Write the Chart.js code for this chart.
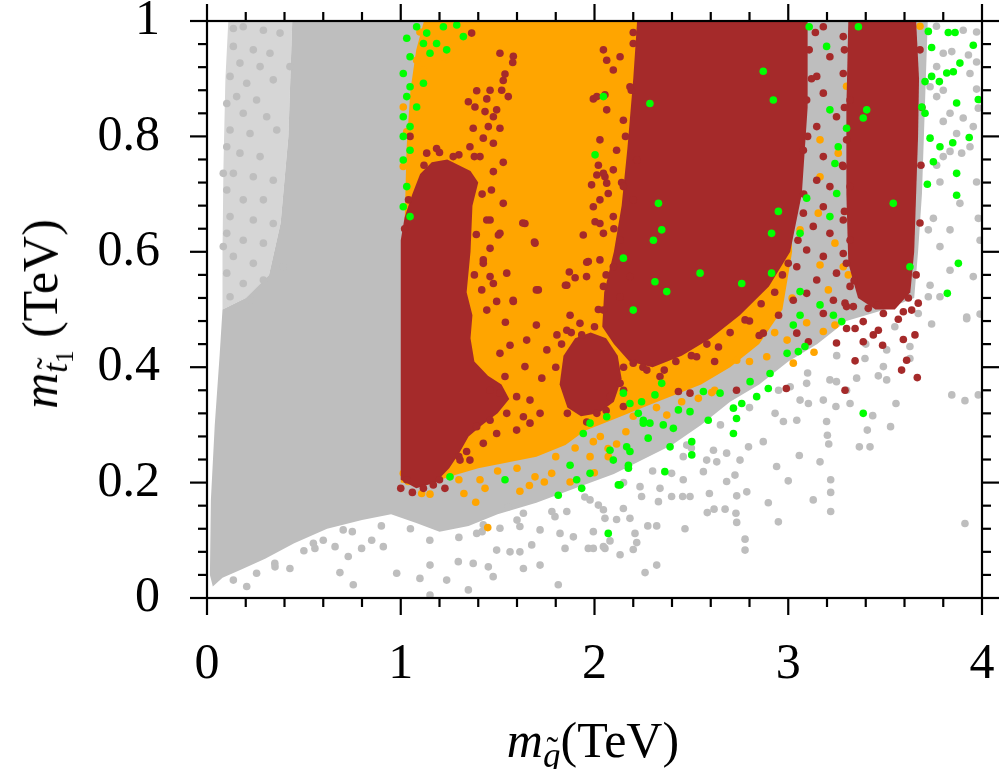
<!DOCTYPE html>
<html>
<head>
<meta charset="utf-8">
<title>m_gluino vs m_stop1</title>
<script src="https://cdn.jsdelivr.net/npm/chart.js@4.4.1/dist/chart.umd.min.js"></script>
<style>
html, body { margin: 0; padding: 0; background: #fff; }
#wrap { position: relative; width: 999px; height: 769px; overflow: hidden; }
#chart { position: absolute; left: 0; top: 0; }
.ttl { position: absolute; font-family: 'Liberation Serif', serif; font-size: 50px; color: #000; white-space: nowrap; line-height: 1; }
.ttl .s { font-size: 0.7em; position: relative; top: 0.28em; }
.ttl .ss { font-size: 0.72em; position: relative; top: 0.25em; }
.ttl .base { position: relative; }
.ttl .acc { position: absolute; left: 0.1em; top: -0.08em; font-style: normal; }
#xt { left: 593px; top: 740px; transform: translate(-50%, -50%); }
#yt { left: 40px; top: 314px; transform: translate(-50%, -50%) rotate(-90deg); }
</style>
</head>
<body>
<div id="wrap">
  <canvas id="chart" width="999" height="769"></canvas>
  <div class="ttl" id="xt"><i>m</i><span class="s"><span class="base"><i>g</i><span class="acc">&#732;</span></span></span>(TeV)</div>
  <div class="ttl" id="yt"><i>m</i><span class="s"><span class="base"><i>t</i><span class="acc">&#732;</span></span><span class="ss">1</span></span> (TeV)</div>
</div>
<script>
// axes
const xTickLabels = ['0', '1', '2', '3', '4'];
const yTickLabels = ['0', '0.2', '0.4', '0.6', '0.8', '1'];
const xMajor = [0, 1, 2, 3, 4];
const xMinor = [0.2, 0.4, 0.6, 0.8, 1.2, 1.4, 1.6, 1.8, 2.2, 2.4, 2.6, 2.8, 3.2, 3.4, 3.6, 3.8];
const yMajor = [0, 0.2, 0.4, 0.6, 0.8, 1];
const yMinor = [0.04, 0.08, 0.12, 0.16, 0.24, 0.28, 0.32, 0.36, 0.44, 0.48, 0.52, 0.56,
                0.64, 0.68, 0.72, 0.76, 0.84, 0.88, 0.92, 0.96];

// dense regions (outline of where the points pile up), [m_gluino, m_stop1] in TeV
const grayCore = [[0.44,1.0],[3.72,1.0],[3.71,0.9],[3.7,0.8],[3.69,0.7],[3.67,0.6],[3.65,0.52],[3.5,0.5],
  [3.3,0.48],[3.15,0.44],[3.0,0.41],[2.85,0.37],[2.7,0.34],[2.55,0.3],[2.4,0.265],[2.25,0.24],[2.1,0.215],
  [1.9,0.19],[1.7,0.165],[1.5,0.145],[1.35,0.125],[1.2,0.115],[1.08,0.13],[0.95,0.145],[0.8,0.135],
  [0.62,0.12],[0.45,0.095],[0.3,0.068],[0.18,0.05],[0.08,0.035],[0.03,0.02],[0.015,0.04],[0.02,0.17],
  [0.04,0.3],[0.065,0.42],[0.08,0.5],[0.2,0.52],[0.32,0.56],[0.38,0.65],[0.42,0.8],[0.44,1.0]];
const graySparse = [[0.44,1.0],[0.11,1.0],[0.095,0.9],[0.085,0.75],[0.08,0.6],[0.08,0.5],[0.2,0.52],
  [0.32,0.56],[0.38,0.65],[0.42,0.8],[0.44,1.0]];
const orangeCore = [[1.12,1.0],[2.98,1.0],[3.0,0.8],[3.02,0.6],[2.97,0.5],[2.85,0.44],[2.7,0.4],
  [2.55,0.37],[2.4,0.35],[2.25,0.33],[2.1,0.31],[1.95,0.29],[1.85,0.265],[1.7,0.245],[1.55,0.235],
  [1.4,0.225],[1.25,0.21],[1.12,0.195],[1.0,0.2],[1.02,0.65],[1.03,0.78],[1.05,0.88],[1.08,0.95],[1.12,1.0]];
const brownBand = [[1.0,0.205],[1.0,0.62],[1.02,0.66],[1.06,0.7],[1.1,0.735],[1.16,0.755],[1.24,0.76],
  [1.3,0.75],[1.36,0.74],[1.4,0.72],[1.37,0.68],[1.36,0.6],[1.34,0.53],[1.37,0.49],[1.36,0.45],
  [1.38,0.41],[1.45,0.385],[1.52,0.37],[1.56,0.345],[1.5,0.32],[1.42,0.3],[1.35,0.28],[1.3,0.25],
  [1.25,0.225],[1.18,0.2],[1.08,0.19],[1.0,0.205]];
const brownBlob = [[1.82,0.37],[1.84,0.42],[1.9,0.45],[1.98,0.46],[2.06,0.45],[2.12,0.42],[2.14,0.38],
  [2.1,0.34],[2.02,0.32],[1.93,0.315],[1.86,0.33],[1.82,0.37]];
const brownMain = [[2.22,1.0],[3.1,1.0],[3.1,0.85],[3.07,0.7],[3.01,0.6],[2.9,0.54],[2.75,0.49],
  [2.6,0.45],[2.45,0.42],[2.3,0.4],[2.18,0.41],[2.1,0.44],[2.04,0.47],[2.05,0.53],[2.1,0.6],
  [2.14,0.68],[2.17,0.78],[2.2,0.9],[2.22,1.0]];
const brownStrip = [[3.31,1.0],[3.66,1.0],[3.675,0.9],[3.67,0.8],[3.66,0.7],[3.65,0.6],[3.63,0.53],
  [3.55,0.5],[3.45,0.5],[3.36,0.52],[3.31,0.58],[3.3,0.7],[3.3,0.85],[3.31,1.0]];

// single points
const grayPoints = [
  [.136,.987],[.187,.99],[.291,.984],[.377,.979],[.136,.956],[.239,.95],[.325,.944],[.17,.927],[.274,.921],
  [.119,.904],[.205,.892],[.342,.898],[.153,.869],[.256,.863],[.102,.857],[.187,.84],[.308,.834],[.119,.811],
  [.222,.805],[.36,.811],[.102,.782],[.17,.771],[.274,.765],[.136,.736],[.239,.73],[.342,.724],[.102,.707],
  [.187,.69],[.291,.69],[.119,.661],[.239,.655],[.342,.649],[.102,.632],[.187,.62],[.291,.615],[.136,.592],
  [.239,.58],[.102,.563],[.187,.545],[.291,.551],[.119,.522],[.222,.516],[.084,.609],[.084,.736],[.428,.921],
  [.394,.574],
  [.136,.031],[.205,.02],[.256,.043],[.351,.054],[.428,.051],[.549,.095],[.557,.086],[.661,.089],[.703,.118],
  [.729,.072],[.686,.044],[.755,.023],[.798,.086],[.85,.1],[.91,.089],[.979,.043],[1.151,.005],[1.099,.034],
  [1.151,.057],[1.237,.031],[1.349,.014],[1.297,.063],[1.374,.06],[1.477,.037],[1.452,.054],[1.495,.083],
  [1.564,.08],[1.615,.08],[1.633,.051],[1.719,.057],[1.813,.023],[1.848,.086],[1.891,.106],[1.968,.086],
  [2.046,.089],[1.676,.092],[1.719,.118],[1.615,.124],[1.512,.121],[1.426,.127],[1.392,.112],[1.822,.112],
  [1.857,.15],[1.796,.141],[1.633,.147],[1.555,.158],[2.02,.161],[1.977,.17],
  [.35,.06],[.5,.082],[.6,.1],[.75,.115],[.9,.125],[1.05,.12],[1.15,.1],[1.3,.105],[1.42,.115],[1.6,.135],
  [1.78,.15],[1.95,.175],[2.15,.2],[2.3,.22],[2.5,.26],[2.65,.3],[2.8,.33],[2.95,.36],[3.1,.39],[3.25,.42],
  [3.4,.44],[3.55,.47],
  [3.74,.475],[3.921,.484],[3.99,.492],[3.844,.352],[3.912,.342],[3.981,.352],[3.556,.337],[3.528,.297],
  [3.408,.291],[3.436,.316],[3.367,.262],[3.246,.332],[3.202,.282],[3.209,.267],[3.164,.236],[3.057,.247],
  [3.219,.205],[3.219,.183],[3.219,.15],[3.129,.17],[3.0,.203],[2.94,.228],[2.897,.165],[2.949,.132],
  [2.777,.102],[2.777,.083],[2.734,.131],[2.73,.147],[2.786,.184],[2.674,.154],[2.617,.154],[2.582,.148],
  [2.593,.181],[2.682,.202],[2.734,.177],[2.725,.213],[2.751,.239],[2.631,.236],[2.562,.219],[2.493,.176],
  [2.455,.176],[2.467,.12],[2.321,.057],[2.261,.044],[2.275,.125],[2.321,.125],[2.209,.112],[2.218,.096],
  [2.2,.084],[2.132,.075],[2.114,.136],[2.183,.138],[2.08,.099],[2.054,.086],[2.054,.138],[2.046,.153],
  [1.994,.115],[1.994,.086],[2.149,.155],[2.33,.167],[2.338,.19],[2.243,.176],[2.235,.193],[2.398,.176],
  [2.458,.205],[2.398,.216],[2.458,.245],[2.579,.239],[2.682,.251],[2.614,.256],[2.476,.265],[2.795,.262],
  [2.871,.271],[2.932,.32],[2.975,.306],[3.044,.308],[3.104,.337],[3.181,.343],[3.215,.378],[3.249,.375],
  [3.319,.337],[3.301,.36],[3.353,.381],[3.465,.385],[3.508,.378],[3.491,.401],[3.396,.415],[3.628,.415],
  [3.628,.436],[3.508,.43],[3.422,.262],[3.198,.306],[3.061,.343],[3.01,.366],[3.095,.372],[3.912,.129],
  [3.765,.991],[3.903,.984],[3.972,.981],[3.8,.944],[3.844,.947],[3.93,.941],[3.972,.929],[3.766,.921],
  [3.938,.909],[3.972,.882],[3.8,.88],[3.732,.886],[3.766,.869],[3.835,.84],[3.903,.832],[3.955,.817],
  [3.981,.849],[3.8,.826],[3.869,.805],[3.938,.782],[3.835,.774],[3.895,.771],[3.8,.765],[3.766,.75],
  [3.972,.721],[3.783,.721],[3.886,.684],[3.981,.658],[3.749,.658],[3.835,.638],[3.723,.638],[3.783,.609],
  [3.955,.557],[3.99,.62],[3.835,.568],[3.732,.542],[3.783,.522],[3.921,.487],[3.723,.522],[3.671,.493]];

const greenPoints = [
  [1.082,.99],[1.134,.979],[1.22,.99],[1.031,.97],[1.117,.961],[1.185,.961],[1.048,.938],[1.151,.944],
  [1.237,.95],[1.013,.909],[1.048,.886],[1.117,.892],[1.031,.869],[1.082,.851],[1.013,.834],[1.048,.817],
  [1.013,.8],[1.048,.776],[1.013,.759],[1.031,.713],[1.013,.678],[1.048,.661],[1.323,.973],[1.289,.993],
  [1.942,.285],[1.977,.303],[2.063,.314],[2.149,.355],[2.183,.337],[2.226,.32],[2.252,.303],[1.874,.23],
  [1.908,.205],[1.934,.19],[1.977,.216],[2.08,.256],[2.166,.262],[2.175,.23],[2.132,.196],[1.813,.178],
  [1.538,.205],[1.254,.21],
  [3.233,.49],[3.276,.479],[3.061,.49],[3.026,.473],[2.994,.424],[3.086,.436],[3.052,.427],[2.906,.389],
  [2.897,.363],[2.803,.375],[2.837,.349],[2.76,.337],[2.717,.329],[2.733,.311],[2.717,.285],[2.648,.355],
  [2.562,.358],[2.587,.308],[2.493,.323],[2.502,.271],[2.502,.248],[2.39,.262],[2.407,.294],[2.363,.219],
  [2.355,.3],[2.433,.326],[2.286,.303],[2.277,.277],[2.183,.254],[2.175,.225],[2.097,.239],[2.123,.196],
  [2.071,.112],[3.387,.32],[2.243,.34],[2.312,.352],[2.347,.372],[2.252,.308],
  [3.723,.982],[3.826,.98],[3.861,.98],[3.955,.958],[3.74,.954],[3.886,.927],[3.818,.91],[3.852,.912],
  [3.74,.904],[3.706,.895],[3.78,.895],[3.981,.864],[3.869,.858],[3.689,.851],[3.706,.84],[3.732,.797],
  [3.934,.798],[3.783,.782],[3.849,.789],[3.749,.756],[3.869,.736],[3.718,.717],[3.869,.698],[3.878,.58],
  [3.821,.528],
  [2.923,.863],[3.215,.846],[3.405,.846],[3.301,.814],[3.258,.782],[3.241,.753],[3.25,.701],[3.095,.693],
  [2.949,.67],[2.914,.632],[3.061,.632],[3.215,.661],[3.387,.832],[3.628,.574],[3.542,.684],[2.871,.913],
  [3.108,.99],[3.198,.956],[3.362,.99],
  [2.304,.62],[2.347,.638],[2.33,.684],[2.286,.857],[2.046,.869],[2.003,.768],[2.149,.589],[2.312,.548],
  [2.373,.531],[2.2,.499],[2.545,.563],[2.76,.545],[2.914,.563],[3.061,.531],[3.164,.508]];

const orangePoints = [
  [1.013,.216],[1.039,.202],[1.108,.181],[1.151,.18],[1.326,.181],[1.387,.166],[1.435,.19],[1.449,.122],
  [1.615,.185],[1.664,.195],[1.741,.201],[1.874,.201],[1.999,.217],[2.071,.245],[2.07,.259],[1.977,.245],
  [1.779,.216],[1.693,.21],[1.409,.205],[1.254,.211],
  [1.3,.205],[1.5,.22],[1.6,.225],[1.8,.245],[1.9,.26],[2.03,.28],[2.2,.315],[2.32,.33],[2.45,.34],
  [2.62,.36],[2.8,.41],[2.93,.46],[3.02,.52],
  [1.994,.271],[2.114,.267],[2.162,.288],[2.373,.317],[2.536,.346],[2.605,.356],[2.734,.412],[2.889,.418],
  [3.026,.407],[3.133,.426],[3.181,.462],[3.241,.473],[3.095,.477],[2.994,.447],
  [3.68,.991],[3.301,.887],[3.164,.794],[3.258,.771],[3.164,.73],[3.31,.67],[3.241,.615],[3.164,.577],
  [3.284,.574],[3.31,.56],[3.207,.534],[3.061,.638],[3.155,.667],
  [1.099,.981],[1.168,.967],[1.22,.938],[1.013,.851],[1.013,.748],[1.082,.932],[1.117,.915],[1.031,.808]];

const brownPoints = [
  [3.181,.99],[3.284,.973],[3.215,.938],[3.147,.904],[3.284,.909],[3.181,.875],[3.319,.863],[3.249,.834],
  [3.147,.817],[3.301,.794],[3.181,.765],[3.284,.748],[3.147,.724],[3.215,.713],[3.319,.713],[3.181,.678],
  [3.284,.655],[3.129,.644],[3.215,.632],[3.319,.62],[3.095,.603],[3.181,.592],[3.284,.597],[3.249,.563],
  [3.147,.551],[3.319,.54],[3.095,.528],[3.233,.516],[3.301,.505],[3.181,.493],[3.044,.574],[3.026,.516],
  [3.078,.667],[3.078,.776],[3.095,.863],[3.108,.95],
  [3.14,.98],[3.12,.9],[3.1,.8],[3.08,.7],[3.05,.62],[3.0,.58],[2.97,.56],[2.93,.53],[2.86,.51],[2.8,.48],
  [2.7,.46],[2.64,.435],[2.58,.44],[2.5,.42],[2.42,.41],[2.36,.395],[2.25,.4],[2.62,.41],[2.85,.455],
  [2.95,.49],
  [3.29,.95],[3.29,.85],[3.28,.75],[3.29,.67],[3.3,.58],[3.34,.55],[3.68,.95],[3.69,.85],[3.685,.75],
  [3.68,.65],[3.66,.56],[3.62,.52],
  [1.0,.19],[1.06,.183],[1.2,.205],[1.3,.245],[1.39,.63],[1.38,.56],[1.42,.7],[1.38,.765],[1.3,.768],
  [1.2,.772],[1.12,.75],[1.04,.69],[1.02,.64],
  [1.8,.4],[1.83,.44],[1.88,.46],[2.0,.47],[2.15,.4],[2.15,.36],[2.06,.325],[1.96,.305],[1.86,.32],
  [2.02,.5],[2.06,.56],[2.1,.64],[2.14,.72],[2.16,.8],[2.19,.88],[2.2,.98],
  [3.293,.511],[3.336,.505],[3.413,.502],[3.465,.508],[3.491,.493],[3.594,.496],[3.637,.499],[3.671,.511],
  [3.568,.483],[3.301,.467],[3.345,.467],[3.387,.479],[3.439,.456],[3.387,.444],[3.465,.464],[3.487,.438],
  [3.594,.448],[3.654,.456],[3.611,.412],[3.585,.395],[3.666,.382],[3.293,.36],[3.345,.411],[3.249,.442],
  [3.104,.444],[2.99,.363],[2.733,.36],
  [1.366,.979],[1.512,.944],[1.581,.939],[1.578,.928],[1.538,.908],[1.529,.897],[1.392,.879],[1.461,.88],
  [1.521,.88],[1.555,.869],[1.349,.86],[1.444,.865],[1.383,.851],[1.435,.843],[1.495,.846],[1.478,.834],
  [1.374,.814],[1.452,.817],[1.512,.814],[1.426,.797],[1.357,.782],[1.478,.788],[1.271,.765],[1.185,.779],
  [1.134,.771],[1.048,.8],[1.409,.765],[1.529,.755],[1.478,.739],[1.529,.684],[1.468,.707],[1.461,.655],
  [1.504,.629],[1.461,.606],[1.426,.58],[1.461,.557],[1.478,.545],[1.418,.534],[1.581,.514],[1.495,.514],
  [1.641,.649],[1.693,.615],[1.71,.534],[1.874,.49],[1.857,.542],[1.968,.583],[1.959,.557],[1.942,.629],
  [2.003,.652],[1.985,.716],[2.054,.73],[2.02,.75],[1.994,.865],[2.054,.872],[2.046,.95],[2.063,.932],
  [1.444,.655],[1.512,.632],[1.426,.586],[1.547,.563],[1.444,.499],[1.564,.438],[1.512,.424],[1.641,.401],
  [1.728,.381],[1.538,.384],[1.754,.43],[1.806,.456],[1.857,.464],[1.925,.476],[1.934,.456],[2.028,.649],
  [1.994,.678],[2.063,.719],[2.071,.701],[2.012,.733],[2.097,.742],
  [1.63,.65],[1.69,.617],[1.70,.534],[1.58,.516],[1.54,.478],[1.70,.473],[1.65,.447],[1.85,.542],
  [1.87,.565],[1.90,.555],[1.96,.582],
  [1.461,.36],[1.512,.355],[1.598,.349],[1.667,.343],[1.719,.32],[1.633,.314],[1.547,.32],[1.461,.308],
  [1.392,.297],[1.495,.285],[1.598,.291],[1.667,.303],[1.426,.268],[1.34,.254],[1.306,.239],[1.357,.239],
  [1.031,.205],[1.117,.19],[1.228,.19],[1.168,.196],
  [2.527,.418],[2.493,.355],[2.433,.358],[2.338,.384],[2.27,.395],[2.2,.407],[2.132,.372],[2.08,.349],
  [2.012,.32],[2.149,.332],[2.777,.482],[2.871,.459],[3.044,.459],
  [2.012,.869],[2.132,.938],[2.2,.961],[2.097,.915],[2.183,.886],[2.063,.846],[2.149,.828],[2.028,.794],
  [2.114,.776],[2.218,.759],[2.046,.736],[2.149,.713],[2.028,.69],[2.097,.661],[2.2,.69],[2.046,.632],
  [2.132,.62],[2.028,.586],[2.097,.574],[2.183,.557],[2.046,.54],[2.132,.522],[2.046,.499]];

const GRAY = '#bebebe', GRAY_SPARSE = '#d6d6d6', GREEN = '#00ff00', ORANGE = '#ffa500', BROWN = '#a52a2a';
const FONT = "'Liberation Serif', 'Times New Roman', serif";

function toXY(list) {
    return list.map(p => ({ x: p[0], y: p[1] }));
}

// filled outline for a dense cloud; lower order = drawn on top
function area(list, color, order) {
    return {
        type: 'line', data: toXY(list), order: order,
        backgroundColor: color, borderColor: 'rgba(0,0,0,0)', borderWidth: 0,
        pointRadius: 0, fill: 'shape', tension: 0, showLine: true
    };
}

function dots(list, color, order) {
    return {
        type: 'scatter', data: toXY(list), order: order,
        backgroundColor: color, pointBackgroundColor: color,
        pointBorderWidth: 0, borderWidth: 0, pointRadius: 3.8, pointStyle: 'circle'
    };
}

// frame and outward ticks on all four sides
const frame = {
    id: 'frame',
    afterDraw(chart) {
        const { ctx, chartArea: a, scales: { x, y } } = chart;
        ctx.save();
        ctx.strokeStyle = '#000';
        ctx.lineWidth = 2.2;
        ctx.strokeRect(a.left, a.top, a.right - a.left, a.bottom - a.top);
        const seg = (x1, y1, x2, y2) => { ctx.beginPath(); ctx.moveTo(x1, y1); ctx.lineTo(x2, y2); ctx.stroke(); };
        const xt = (vals, len) => vals.forEach(v => {
            const px = x.getPixelForValue(v);
            seg(px, a.bottom, px, a.bottom + len);
            seg(px, a.top, px, a.top - len);
        });
        const yt = (vals, len) => vals.forEach(v => {
            const py = y.getPixelForValue(v);
            seg(a.left, py, a.left - len, py);
            seg(a.right, py, a.right + len, py);
        });
        xt(xMajor, 17); xt(xMinor, 9);
        yt(yMajor, 17); yt(yMinor, 9);
        ctx.restore();
    }
};

new Chart(document.getElementById('chart'), {
    type: 'scatter',
    data: {
        datasets: [
            dots(greenPoints, GREEN, 0),
            dots(brownPoints, BROWN, 1),
            area(brownBand, BROWN, 2),
            area(brownBlob, BROWN, 2),
            area(brownMain, BROWN, 2),
            area(brownStrip, BROWN, 2),
            dots(orangePoints, ORANGE, 3),
            area(orangeCore, ORANGE, 4),
            dots(grayPoints, GRAY, 5),
            area(grayCore, GRAY, 6),
            area(graySparse, GRAY_SPARSE, 7)
        ]
    },
    options: {
        responsive: false,
        animation: false,
        devicePixelRatio: 1,
        layout: { padding: { top: 21, right: 17, left: 0, bottom: 0 } },
        plugins: { legend: { display: false }, tooltip: { enabled: false } },
        scales: {
            x: {
                type: 'linear', min: 0, max: 4,
                afterBuildTicks: s => { s.ticks = xMajor.map(v => ({ value: v })); },
                afterFit: s => { s.height = 171; s.paddingLeft = 0; s.paddingRight = 0; },
                grid: { display: false, drawTicks: false },
                border: { display: false },
                ticks: {
                    padding: 37, color: '#000', maxRotation: 0, autoSkip: false,
                    font: { family: FONT, size: 50 },
                    callback: (v, i) => xTickLabels[i]
                }
            },
            y: {
                type: 'linear', min: 0, max: 1,
                afterBuildTicks: s => { s.ticks = yMajor.map(v => ({ value: v })); },
                afterFit: s => { s.width = 207; s.paddingTop = 0; s.paddingBottom = 0; },
                grid: { display: false, drawTicks: false },
                border: { display: false },
                ticks: {
                    padding: 47, color: '#000', autoSkip: false,
                    font: { family: FONT, size: 50 },
                    callback: (v, i) => yTickLabels[i]
                }
            }
        }
    },
    plugins: [frame]
});
</script>
</body>
</html>
